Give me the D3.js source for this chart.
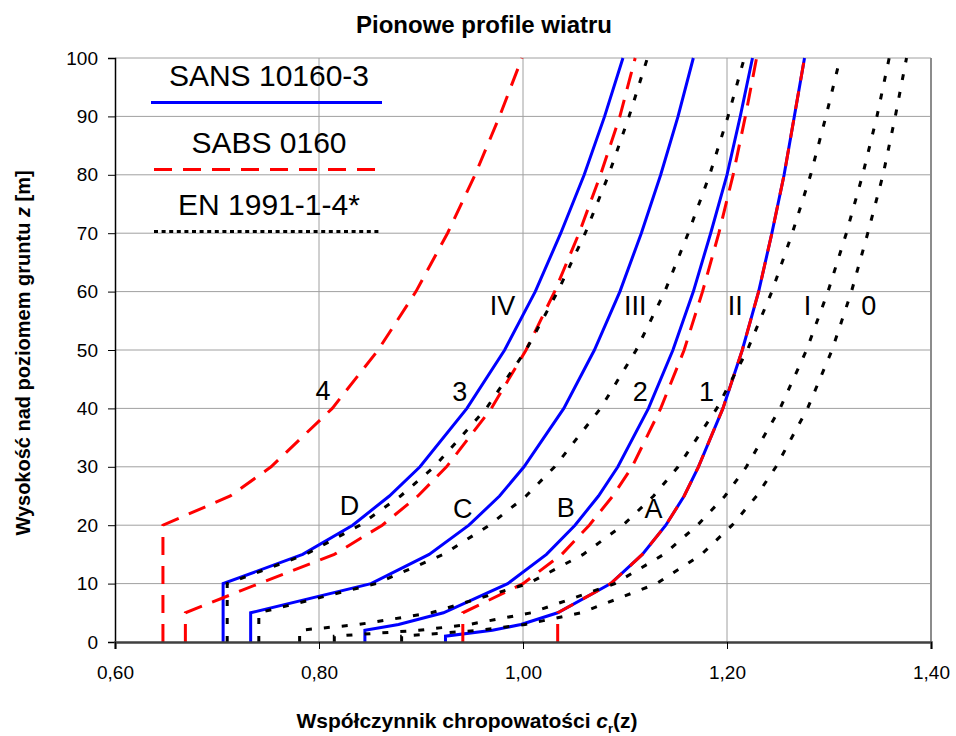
<!DOCTYPE html>
<html lang="pl">
<head>
  <meta charset="UTF-8" />
  <title>Pionowe profile wiatru</title>
  <script src="https://d3js.org/d3.v7.min.js"></script>
  <style>
    body { margin: 0; background: #fff; }
    svg { font-family: Arial, "Liberation Sans", sans-serif; }
  </style>
</head>
<body>
  <svg id="chart" width="956" height="736"></svg>

  <script>
    // heights above ground [m], shared by every profile
    const heights = [0, 1, 2, 3, 5, 10, 15, 20, 25, 30, 40, 50, 60, 70, 80, 90, 100];

    // SANS 10160-3 (terrain A..D)
    const sansA = [0.924, 0.924, 0.970, 0.998, 1.034, 1.086, 1.117, 1.140, 1.158, 1.172, 1.196, 1.215, 1.231, 1.244, 1.256, 1.266, 1.276];
    const sansB = [0.845, 0.845, 0.845, 0.878, 0.922, 0.985, 1.023, 1.051, 1.074, 1.093, 1.123, 1.147, 1.167, 1.184, 1.200, 1.213, 1.225];
    const sansC = [0.733, 0.733, 0.733, 0.733, 0.733, 0.851, 0.908, 0.947, 0.977, 1.001, 1.040, 1.070, 1.095, 1.116, 1.135, 1.152, 1.167];
    const sansD = [0.706, 0.706, 0.706, 0.706, 0.706, 0.706, 0.784, 0.833, 0.869, 0.899, 0.945, 0.982, 1.012, 1.037, 1.060, 1.080, 1.098];

    // SABS 0160 (terrain 1..4)
    const sabs1 = [1.034, 1.034, 1.034, 1.034, 1.034, 1.086, 1.117, 1.140, 1.158, 1.172, 1.196, 1.215, 1.231, 1.244, 1.256, 1.266, 1.276];
    const sabs2 = [0.941, 0.941, 0.941, 0.941, 0.941, 1.000, 1.038, 1.065, 1.088, 1.107, 1.135, 1.158, 1.176, 1.192, 1.206, 1.218, 1.229];
    const sabs3 = [0.669, 0.669, 0.669, 0.669, 0.669, 0.741, 0.815, 0.862, 0.897, 0.925, 0.969, 1.003, 1.031, 1.055, 1.076, 1.095, 1.110];
    const sabs4 = [0.647, 0.647, 0.647, 0.647, 0.647, 0.647, 0.647, 0.647, 0.713, 0.753, 0.813, 0.858, 0.895, 0.926, 0.953, 0.977, 0.999];

    // EN 1991-1-4* (terrain 0..IV)
    const en0   = [0.881, 0.881, 0.957, 1.002, 1.057, 1.131, 1.175, 1.205, 1.229, 1.248, 1.279, 1.303, 1.322, 1.338, 1.353, 1.365, 1.376];
    const enI   = [0.815, 0.815, 0.898, 0.947, 1.008, 1.090, 1.138, 1.171, 1.198, 1.219, 1.252, 1.278, 1.299, 1.317, 1.333, 1.347, 1.359];
    const enII  = [0.781, 0.781, 0.781, 0.839, 0.910, 1.005, 1.059, 1.098, 1.128, 1.152, 1.190, 1.220, 1.244, 1.264, 1.282, 1.297, 1.311];
    const enIII = [0.741, 0.741, 0.741, 0.741, 0.741, 0.856, 0.922, 0.967, 1.003, 1.031, 1.076, 1.111, 1.139, 1.162, 1.183, 1.201, 1.217];
    const enIV  = [0.710, 0.710, 0.710, 0.710, 0.710, 0.710, 0.787, 0.840, 0.880, 0.913, 0.964, 1.003, 1.034, 1.061, 1.084, 1.104, 1.122];

    // curve names and where they are written (c, z)
    const curveNames = ["4", "3", "2", "1", "IV", "III", "II", "I", "0", "D", "C", "B", "A"];
    const curveNameAt = [[0.804, 41.4], [0.938, 41.3], [1.115, 41.3], [1.180, 41.3],
                         [0.980, 56], [1.110, 56], [1.208, 56], [1.279, 56], [1.339, 56],
                         [0.830, 21.7], [0.941, 21.2], [1.042, 21.4], [1.128, 21.2]];

    const legendNames = ["SANS 10160-3", "SABS 0160", "EN 1991-1-4*"];
    const xTicks = [0.6, 0.8, 1.0, 1.2, 1.4];
    const yTicks = [0, 10, 20, 30, 40, 50, 60, 70, 80, 90, 100];

    const styles = {
      sans: {stroke: "#0000ff", dash: null},
      sabs: {stroke: "#ff0000", dash: "18,11"},
      en:   {stroke: "#000000", dash: "6,12"}
    };

    const curves = [
      {kind: "sans", values: sansA}, {kind: "sans", values: sansB},
      {kind: "sans", values: sansC}, {kind: "sans", values: sansD},
      {kind: "sabs", values: sabs1}, {kind: "sabs", values: sabs2},
      {kind: "sabs", values: sabs3}, {kind: "sabs", values: sabs4},
      {kind: "en", values: en0}, {kind: "en", values: enI},
      {kind: "en", values: enII}, {kind: "en", values: enIII},
      {kind: "en", values: enIV}
    ];

    const svg = d3.select("#chart");
    const margin = {top: 58, right: 25, bottom: 94, left: 115};
    const width = 956 - margin.left - margin.right,
          height = 736 - margin.top - margin.bottom;

    const x = d3.scaleLinear().domain([0.6, 1.4]).range([margin.left, margin.left + width]);
    const y = d3.scaleLinear().domain([0, 100]).range([margin.top + height, margin.top]);

    // gridlines
    svg.append("g")
      .selectAll("line")
      .data(yTicks.slice(1))
      .join("line")
        .attr("x1", x(0.6)).attr("x2", x(1.4))
        .attr("y1", d => y(d)).attr("y2", d => y(d))
        .attr("stroke", "#a0a0a0").attr("stroke-width", 1);

    svg.append("g")
      .selectAll("line")
      .data(xTicks.slice(1, -1))
      .join("line")
        .attr("x1", d => x(d)).attr("x2", d => x(d))
        .attr("y1", y(0)).attr("y2", y(100))
        .attr("stroke", "#a0a0a0").attr("stroke-width", 1);

    // right border
    svg.append("line")
      .attr("x1", x(1.4)).attr("x2", x(1.4))
      .attr("y1", y(0)).attr("y2", y(100))
      .attr("stroke", "#8c8c8c").attr("stroke-width", 2);

    // profiles
    const line = d3.line()
      .x(d => x(d[0]))
      .y(d => y(d[1]));

    const order = ["sans", "sabs", "en"];
    order.forEach(kind => {
      svg.append("g")
        .selectAll("path")
        .data(curves.filter(c => c.kind === kind))
        .join("path")
          .attr("d", c => line(c.values.map((v, i) => [v, heights[i]])))
          .attr("fill", "none")
          .attr("stroke", styles[kind].stroke)
          .attr("stroke-width", 3)
          .attr("stroke-dasharray", styles[kind].dash);
    });

    // axes
    const yAxis = svg.append("g")
      .attr("transform", `translate(${x(0.6)},0)`)
      .call(d3.axisLeft(y).tickValues(yTicks).tickSize(7).tickPadding(10));
    yAxis.select(".domain").attr("stroke", "#000").attr("stroke-width", 1.5);
    yAxis.selectAll("text").attr("font-size", 19).attr("font-family", "Arial, 'Liberation Sans', sans-serif").attr("fill", "#000");

    const xAxis = svg.append("g")
      .attr("transform", `translate(0,${y(0)})`)
      .call(d3.axisBottom(x).tickValues(xTicks).tickSize(7).tickPadding(17)
        .tickFormat(d => d.toFixed(2).replace(".", ",")));
    xAxis.select(".domain").attr("stroke", "#404040").attr("stroke-width", 2.5);
    xAxis.selectAll("text").attr("font-size", 19).attr("font-family", "Arial, 'Liberation Sans', sans-serif").attr("fill", "#000");

    // curve names
    svg.append("g")
      .selectAll("text")
      .data(curveNames)
      .join("text")
        .attr("x", (d, i) => x(curveNameAt[i][0]))
        .attr("y", (d, i) => y(curveNameAt[i][1]))
        .attr("text-anchor", "middle")
        .attr("font-size", 27)
        .text(d => d);

    // legend
    const legendY = [86, 153, 215];
    const legendKinds = ["sans", "sabs", "en"];
    const legend = svg.append("g");
    legendNames.forEach((name, i) => {
      legend.append("text")
        .attr("x", 269).attr("y", legendY[i])
        .attr("text-anchor", "middle")
        .attr("font-size", 30)
        .text(name);
      const st = styles[legendKinds[i]];
      legend.append("line")
        .attr("x1", i === 0 ? 151 : 154).attr("x2", 382)
        .attr("y1", legendY[i] + 16.5).attr("y2", legendY[i] + 16.5)
        .attr("stroke", st.stroke)
        .attr("stroke-width", 3)
        .attr("stroke-dasharray", i === 2 ? "4,3.6" : st.dash);
    });

    // title
    svg.append("text")
      .attr("x", 484).attr("y", 33)
      .attr("text-anchor", "middle")
      .attr("font-size", 24)
      .attr("font-weight", "bold")
      .text("Pionowe profile wiatru");

    // axis titles
    const xt = svg.append("text")
      .attr("x", 467).attr("y", 728)
      .attr("text-anchor", "middle")
      .attr("font-size", 21)
      .attr("font-weight", "bold");
    xt.append("tspan").text("Współczynnik chropowatości ");
    xt.append("tspan").attr("font-style", "italic").text("c");
    xt.append("tspan").attr("font-size", 13).attr("dy", 5).text("r");
    xt.append("tspan").attr("dy", -5).text("(z)");

    const yt = svg.append("text")
      .attr("transform", `translate(30,${y(50) + 3}) rotate(-90)`)
      .attr("text-anchor", "middle")
      .attr("font-size", 20)
      .attr("font-weight", "bold");
    yt.append("tspan").text("Wysokość nad poziomem gruntu ");
    yt.append("tspan").attr("font-style", "italic").text("z");
    yt.append("tspan").text(" [m]");
  </script>
</body>
</html>
